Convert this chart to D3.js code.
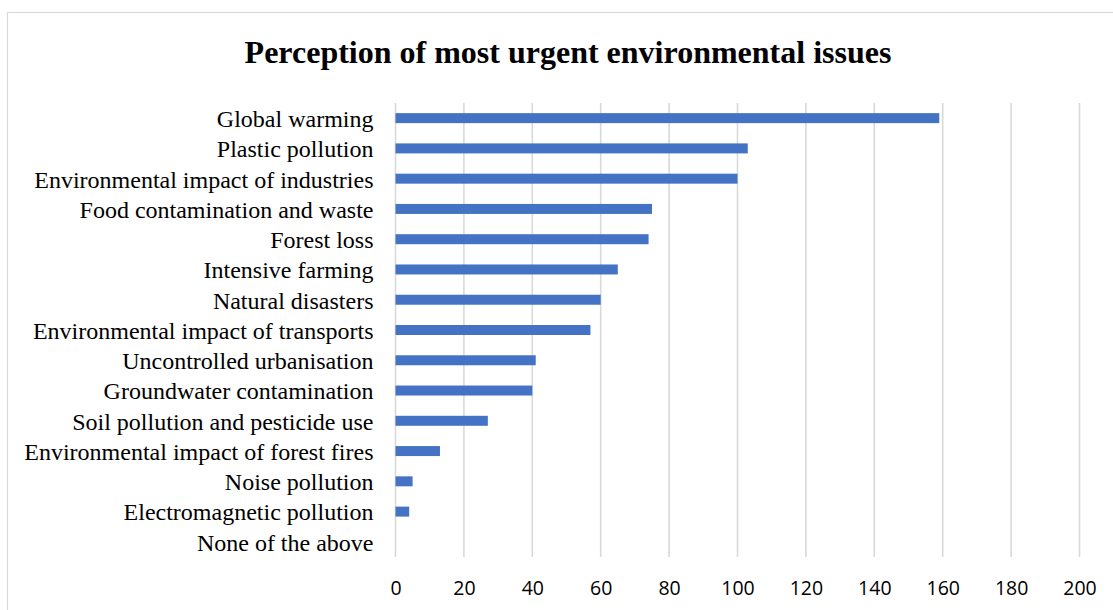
<!DOCTYPE html>
<html>
<head>
<meta charset="utf-8">
<script src="https://cdn.jsdelivr.net/npm/d3@7"></script>
<style>
  body { margin: 0; background: #fff; }
  svg { display: block; }
</style>
</head>
<body>
<div id="chart"></div>
<script>
// data
var categories = [
  "Global warming",
  "Plastic pollution",
  "Environmental impact of industries",
  "Food contamination and waste",
  "Forest loss",
  "Intensive farming",
  "Natural disasters",
  "Environmental impact of transports",
  "Uncontrolled urbanisation",
  "Groundwater contamination",
  "Soil pollution and pesticide use",
  "Environmental impact of forest fires",
  "Noise pollution",
  "Electromagnetic pollution",
  "None of the above"
];
var counts = [159, 103, 100, 75, 74, 65, 60, 57, 41, 40, 27, 13, 5, 4, 0];
var tickValues = [0, 20, 40, 60, 80, 100, 120, 140, 160, 180, 200];
var title = "Perception of most urgent environmental issues";

var width = 1113, height = 610;

var data = categories.map(function(c, i) { return { name: c, value: counts[i] }; });

var svg = d3.select("#chart").append("svg")
  .attr("width", width)
  .attr("height", height);

// chart area border (right and bottom are cut off in the original)
svg.append("rect")
  .attr("x", 7.5).attr("y", 12.5)
  .attr("width", 1200).attr("height", 700)
  .attr("fill", "none")
  .attr("stroke", "#d9d9d9")
  .attr("stroke-width", 1.2);

var x = d3.scaleLinear().domain([0, 200]).range([395.5, 1079.5]);
var y = d3.scaleBand()
  .domain(categories)
  .range([103, 557])
  .paddingInner(0.67)
  .paddingOuter(0.335);

// gridlines
svg.append("g")
  .selectAll("line")
  .data(tickValues)
  .enter().append("line")
  .attr("x1", function(d) { return x(d); })
  .attr("x2", function(d) { return x(d); })
  .attr("y1", 103)
  .attr("y2", 557)
  .attr("stroke", "#d9d9d9")
  .attr("stroke-width", 1.6);

// bars
svg.selectAll(".bar")
  .data(data)
  .enter().append("rect")
  .attr("class", "bar")
  .attr("x", x(0))
  .attr("y", function(d) { return y(d.name); })
  .attr("width", function(d) { return x(d.value) - x(0); })
  .attr("height", y.bandwidth())
  .attr("fill", "#4472c4");

// category labels
var yAxis = d3.axisLeft(y).tickSize(0).tickPadding(22);
var gy = svg.append("g")
  .attr("transform", "translate(" + x(0) + ",0)")
  .call(yAxis);
gy.select(".domain").remove();
gy.selectAll("text")
  .attr("font-family", "'Liberation Serif', 'Times New Roman', serif")
  .attr("font-size", 24)
  .attr("fill", "#000")
  .attr("dy", "0.37em");

// value axis labels
var xAxis = d3.axisBottom(x).tickValues(tickValues).tickSize(0).tickPadding(0);
var gx = svg.append("g")
  .attr("transform", "translate(0,581)")
  .call(xAxis);
gx.select(".domain").remove();
gx.selectAll("text")
  .attr("font-family", "'Open Sans', sans-serif")
  .attr("font-size", 19.5)
  .attr("fill", "#000")
  .attr("dy", "0.74em");

// title
svg.append("text")
  .attr("x", 568)
  .attr("y", 63)
  .attr("text-anchor", "middle")
  .attr("font-family", "'Liberation Serif', 'Times New Roman', serif")
  .attr("font-weight", "bold")
  .attr("font-size", 32)
  .attr("fill", "#000")
  .text(title);
</script>
</body>
</html>
